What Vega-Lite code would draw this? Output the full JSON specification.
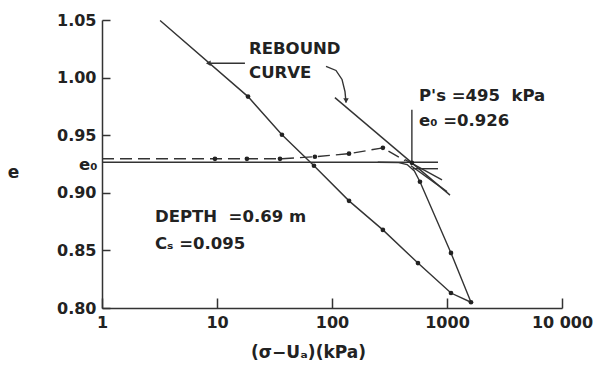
{
  "$schema": "https://vega.github.io/schema/vega-lite/v6.json",
  "width": 460,
  "height": 288,
  "autosize": "none",
  "padding": {"left": 102, "top": 20, "right": 38, "bottom": 63},
  "background": "white",
  "config": {
    "view": {"stroke": null},
    "font": "DejaVu Sans",
    "axis": {"grid": false, "domainColor": "#333", "tickColor": "#333", "labelColor": "#222", "titleColor": "#222", "labelFont": "DejaVu Sans", "titleFont": "DejaVu Sans", "labelFontSize": 16, "labelFontWeight": "bold", "titleFontSize": 17, "titleFontWeight": "bold", "domainWidth": 1.5, "tickWidth": 1.5}
  },
  "datasets": {
    "lines": [
      {"series": "virgin", "o": 1, "x": 3.2, "e": 1.0496},
      {"series": "virgin", "o": 2, "x": 18.6, "e": 0.9835},
      {"series": "virgin", "o": 3, "x": 36.7, "e": 0.9504},
      {"series": "virgin", "o": 4, "x": 69.7, "e": 0.9235},
      {"series": "virgin", "o": 5, "x": 140.6, "e": 0.893},
      {"series": "virgin", "o": 6, "x": 277, "e": 0.8678},
      {"series": "virgin", "o": 7, "x": 559, "e": 0.839},
      {"series": "virgin", "o": 8, "x": 1083, "e": 0.813},
      {"series": "virgin", "o": 9, "x": 1617, "e": 0.805},
      {"series": "curve", "o": 1, "x": 250, "e": 0.9265},
      {"series": "curve", "o": 2, "x": 380, "e": 0.9262},
      {"series": "curve", "o": 3, "x": 450, "e": 0.9245},
      {"series": "curve", "o": 4, "x": 520, "e": 0.919},
      {"series": "curve", "o": 5, "x": 582, "e": 0.9096},
      {"series": "curve", "o": 6, "x": 1083, "e": 0.8478},
      {"series": "curve", "o": 7, "x": 1617, "e": 0.805},
      {"series": "e0", "o": 1, "x": 1, "e": 0.9265},
      {"series": "e0", "o": 2, "x": 835, "e": 0.9265},
      {"series": "rebound", "o": 1, "x": 106, "e": 0.9826},
      {"series": "rebound", "o": 2, "x": 1062, "e": 0.898},
      {"series": "vert", "o": 1, "x": 495, "e": 0.926},
      {"series": "vert", "o": 2, "x": 495, "e": 0.972},
      {"series": "hor2", "o": 1, "x": 505, "e": 0.9209},
      {"series": "hor2", "o": 2, "x": 835, "e": 0.9209},
      {"series": "tan1", "o": 1, "x": 431, "e": 0.9287},
      {"series": "tan1", "o": 2, "x": 905, "e": 0.9113},
      {"series": "tan2", "o": 1, "x": 486, "e": 0.9235},
      {"series": "tan2", "o": 2, "x": 1000, "e": 0.901},
      {"series": "leader", "o": 1, "x": 8.19, "e": 1.0125},
      {"series": "leader", "o": 2, "x": 17.5, "e": 1.0125},
      {"series": "arrow", "o": 1, "x": 88.7, "e": 1.0097},
      {"series": "arrow", "o": 2, "x": 108.3, "e": 1.0062},
      {"series": "arrow", "o": 3, "x": 122.2, "e": 0.9984},
      {"series": "arrow", "o": 4, "x": 129.7, "e": 0.9879},
      {"series": "arrow", "o": 5, "x": 132.4, "e": 0.9784}
    ],
    "dashed": [
      {"o": 1, "x": 1, "e": 0.9295},
      {"o": 2, "x": 9.6, "e": 0.9295},
      {"o": 3, "x": 18.2, "e": 0.9295},
      {"o": 4, "x": 35.3, "e": 0.9295},
      {"o": 5, "x": 71, "e": 0.9313},
      {"o": 6, "x": 140.6, "e": 0.934},
      {"o": 7, "x": 277, "e": 0.939},
      {"o": 8, "x": 431, "e": 0.928}
    ],
    "points": [
      {"x": 18.6, "e": 0.9835},
      {"x": 36.7, "e": 0.9504},
      {"x": 69.7, "e": 0.9235},
      {"x": 140.6, "e": 0.893},
      {"x": 277, "e": 0.8678},
      {"x": 559, "e": 0.839},
      {"x": 1083, "e": 0.813},
      {"x": 1617, "e": 0.805},
      {"x": 9.6, "e": 0.9295},
      {"x": 18.2, "e": 0.9295},
      {"x": 35.3, "e": 0.9295},
      {"x": 71, "e": 0.9313},
      {"x": 140.6, "e": 0.934},
      {"x": 277, "e": 0.939},
      {"x": 582, "e": 0.9096},
      {"x": 1083, "e": 0.8478},
      {"x": 495, "e": 0.926}
    ],
    "heads": [
      {"kind": "left", "x": 8.4, "e": 1.0125},
      {"kind": "down", "x": 132.4, "e": 0.9800}
    ],
    "labels": [
      {"x": 19.0, "e": 1.0245, "text": "REBOUND"},
      {"x": 19.0, "e": 1.0043, "text": "CURVE"},
      {"x": 571, "e": 0.9844, "text": "P's =495\u00a0\u00a0kPa"},
      {"x": 571, "e": 0.9626, "text": "e₀\u00a0=0.926"},
      {"x": 2.89, "e": 0.879, "text": "DEPTH\u00a0\u00a0=0.69 m"},
      {"x": 2.89, "e": 0.8557, "text": "Cₛ =0.095"},
      {"x": 0.631, "e": 0.9244, "text": "e₀"}
    ]
  },
  "encoding": {
    "x": {"field": "x", "type": "quantitative", "scale": {"type": "log", "domain": [1, 10000], "nice": false},
      "axis": {"values": [1, 10, 100, 1000, 10000], "format": "d", "title": "(σ−Uₐ)(kPa)", "tickSize": -10, "labelPadding": 16, "labelFlush": false, "labelOverlap": false, "labelExpr": "datum.value == 10000 ? '10 000' : datum.label", "titleX": 206, "titleY": 44, "titleBaseline": "middle", "titleAnchor": null, "titleAlign": "center"}},
    "y": {"field": "e", "type": "quantitative", "scale": {"domain": [0.8, 1.05], "nice": false, "zero": false},
      "axis": {"values": [0.8, 0.85, 0.9, 0.95, 1.0, 1.05], "format": ".2f", "title": "e", "tickSize": -8, "labelPadding": 14, "labelFlush": false, "titleAngle": 0, "titleX": -89, "titleY": 152, "titleAlign": "center", "titleBaseline": "middle"}}
  },
  "layer": [
    {"data": {"name": "lines"}, "mark": {"type": "line", "color": "#333", "strokeWidth": 1.4, "clip": false},
      "encoding": {"detail": {"field": "series"}, "order": {"field": "o"}}},
    {"data": {"name": "dashed"}, "mark": {"type": "line", "color": "#333", "strokeWidth": 1.4, "strokeDash": [12, 6]},
      "encoding": {"order": {"field": "o"}}},
    {"data": {"name": "points"}, "mark": {"type": "circle", "color": "#222", "size": 22, "opacity": 1}},
    {"data": {"name": "heads"}, "mark": {"type": "point", "filled": true, "color": "#333", "size": 30, "opacity": 1},
      "encoding": {"shape": {"field": "kind", "type": "nominal", "scale": {"domain": ["left", "down"], "range": ["triangle-left", "triangle-down"]}, "legend": null}}},
    {"data": {"name": "labels"}, "mark": {"type": "text", "align": "left", "baseline": "middle", "fontSize": 16.5, "fontWeight": "bold", "color": "#222", "clip": false},
      "encoding": {"text": {"field": "text"}}}
  ]
}
